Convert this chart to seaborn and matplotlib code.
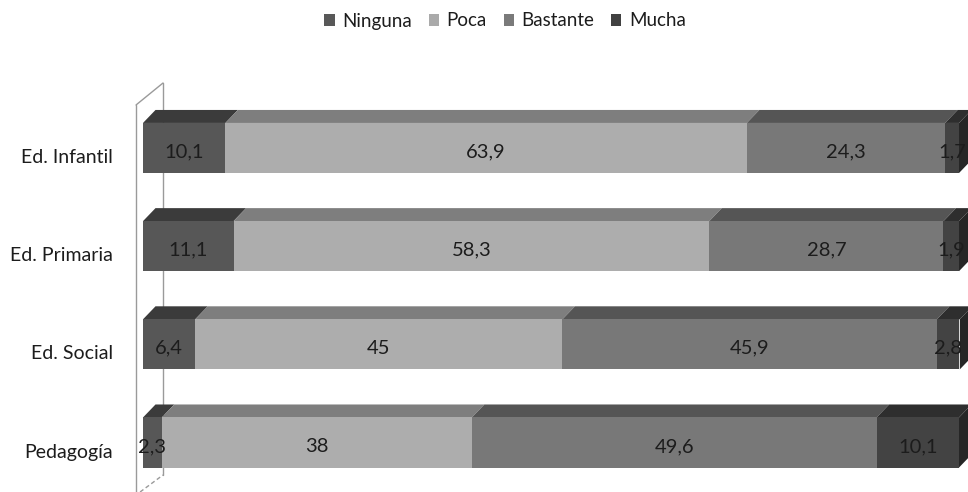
import matplotlib
matplotlib.use("Agg")
import matplotlib.pyplot as plt
from matplotlib.patches import Polygon, Patch
from matplotlib.lines import Line2D
from matplotlib.transforms import ScaledTranslation
import numpy as np
import pandas as pd
import seaborn as sns

# --- data -------------------------------------------------------------
categories = ["Ed. Infantil", "Ed. Primaria", "Ed. Social", "Pedagogía"]
series = ["Ninguna", "Poca", "Bastante", "Mucha"]
ninguna = [10.1, 11.1, 6.4, 2.3]
poca = [63.9, 58.3, 45, 38]
bastante = [24.3, 28.7, 45.9, 49.6]
mucha = [1.7, 1.9, 2.8, 10.1]
value_labels = {
    "Ninguna": ["10,1", "11,1", "6,4", "2,3"],
    "Poca": ["63,9", "58,3", "45", "38"],
    "Bastante": ["24,3", "28,7", "45,9", "49,6"],
    "Mucha": ["1,7", "1,9", "2,8", "10,1"],
}

# --- styling ----------------------------------------------------------
front = {"Ninguna": "#575757", "Poca": "#adadad", "Bastante": "#787878", "Mucha": "#434343"}
top = {"Ninguna": "#3b3b3b", "Poca": "#7e7e7e", "Bastante": "#555555", "Mucha": "#2e2e2e"}
side = {"Ninguna": "#303030", "Poca": "#6a6a6a", "Bastante": "#474747", "Mucha": "#262626"}
legend_col = {"Ninguna": "#585858", "Poca": "#aaaaaa", "Bastante": "#7a7a7a", "Mucha": "#414141"}

sns.set_theme(style="white")
plt.rcParams["font.family"] = ["Lato", "DejaVu Sans"]
cat_size, val_size, leg_size = 14, 14.5, 13.5
text_color = "#1c1c1c"

W, H, DPI = 968, 492, 100
fig = plt.figure(figsize=(W / DPI, H / DPI), dpi=DPI)
ax = fig.add_axes([143 / W, 0.4 / H, 816 / W, 392.7 / H])

values = pd.DataFrame({"Ninguna": ninguna, "Poca": poca, "Bastante": bastante, "Mucha": mucha},
                      index=categories)
starts = values.cumsum(axis=1) - values
ends = values.cumsum(axis=1)

bar_h = 0.51
# stacked bars: widest cumulative total first, each later layer drawn over it
for s in reversed(series):
    layer = pd.DataFrame({"cat": categories, "end": ends[s].values})
    sns.barplot(data=layer, x="end", y="cat", orient="h", color=front[s],
                saturation=1, width=bar_h, linewidth=0, ax=ax, zorder=3)

ax.set_xlim(0, 100)
ax.set_ylim(3.5, -0.5)

# 3-D depth of the bars, expressed as a display offset converted to data units
fig.canvas.draw()
inv = ax.transData.inverted()
p0 = inv.transform((0, 0))
p1 = inv.transform((12.5, 13))
dx = p1[0] - p0[0]
dy = p1[1] - p0[1]   # negative in data units (inverted y axis)

for i, cat in enumerate(categories):
    y_top = i - bar_h / 2
    y_bot = i + bar_h / 2
    for s in series:
        x0, x1 = starts.loc[cat, s], ends.loc[cat, s]
        ax.add_patch(Polygon([(x0, y_top), (x1, y_top), (x1 + dx, y_top + dy), (x0 + dx, y_top + dy)],
                             closed=True, facecolor=top[s], edgecolor="none", zorder=2.5,
                             clip_on=False))
    # right end side face
    xe = ends.loc[cat, "Mucha"]
    ax.add_patch(Polygon([(xe, y_top), (xe + dx, y_top + dy), (xe + dx, y_bot + dy), (xe, y_bot)],
                         closed=True, facecolor=side["Mucha"], edgecolor="none", zorder=2.5,
                         clip_on=False))
    for s in series:
        x0, x1 = starts.loc[cat, s], ends.loc[cat, s]
        ax.text((x0 + x1) / 2, i + 0.04, value_labels[s][i], ha="center", va="center",
                fontsize=val_size, color=text_color, zorder=5)

# side wall outline
wall = dict(color="#9a9a9a", lw=1.0, zorder=1, clip_on=False)
wx_front = inv.transform((ax.transData.transform((0, 0))[0] - 7, 0))[0]
wx_back = wx_front + inv.transform((27, 0))[0] - inv.transform((0, 0))[0]
y_wall_top = inv.transform((0, fig.bbox.height - 105))[1]
y_wall_back_top = inv.transform((0, fig.bbox.height - 83))[1]
y_wall_back_bot = inv.transform((0, fig.bbox.height - 475))[1]
y_wall_bot = inv.transform((0, fig.bbox.height - 492))[1]
ax.add_line(Line2D([wx_front, wx_front], [y_wall_top, y_wall_bot], **wall))
ax.add_line(Line2D([wx_back, wx_back], [y_wall_back_top, y_wall_back_bot], **wall))
ax.add_line(Line2D([wx_front, wx_back], [y_wall_top, y_wall_back_top], **wall))
ax.add_line(Line2D([wx_front + 0.5, wx_back], [y_wall_bot, y_wall_back_bot], ls=(0, (3, 2)), **wall))

ax.set_xlabel("")
ax.set_ylabel("")
ax.set_xticks([])
ax.tick_params(axis="y", length=0, pad=21.6, labelsize=cat_size, labelcolor=text_color)
# category names sit a little below the front face centre
shift = ScaledTranslation(0, -8 / DPI, fig.dpi_scale_trans)
for lab in ax.get_yticklabels():
    lab.set_transform(lab.get_transform() + shift)
for sp in ax.spines.values():
    sp.set_visible(False)
ax.patch.set_visible(False)

handles = [Patch(facecolor=legend_col[s], edgecolor="none") for s in series]
fig.legend(handles, series, loc="center", bbox_to_anchor=(505 / W, 1 - 21 / H), ncol=4,
           frameon=False, fontsize=leg_size, handlelength=0.55, handleheight=0.55,
           handletextpad=0.4, columnspacing=0.9, labelcolor=text_color)

fig.savefig("out.png", dpi=DPI)
